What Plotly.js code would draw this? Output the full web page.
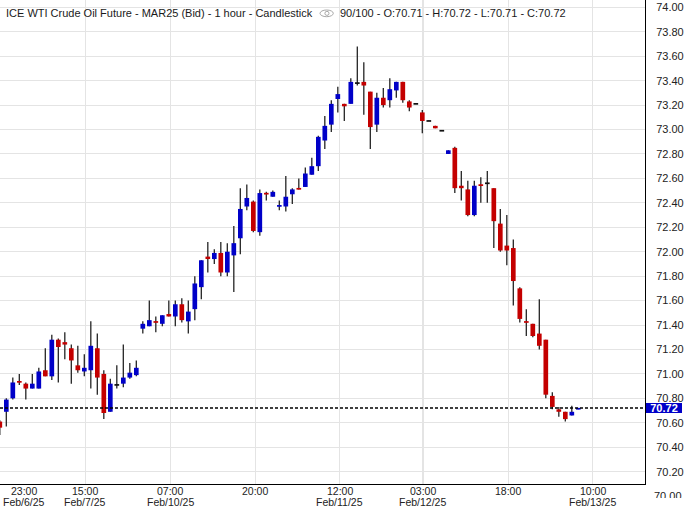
<!DOCTYPE html>
<html><head><meta charset="utf-8">
<script src="https://cdn.plot.ly/plotly-3.0.1.min.js"></script>
<style>html,body{margin:0;padding:0;background:#fff}#chart{width:688px;height:508px}</style>
</head><body><div id="chart"></div>
<script>
// Hourly bars, ICE WTI Crude Oil Future MAR25 (Bid)
const openP  = [70.61,70.69,70.80,70.94,70.92,70.88,70.88,71.03,70.98,71.28,
                71.26,71.21,71.07,71.02,71.03,71.21,71.00,70.69,70.91,70.92,
                70.97,70.99,71.37,71.39,71.43,71.41,71.49,71.47,71.57,71.43,
                71.53,71.71,71.96,71.94,71.99,71.83,71.97,72.11,72.37,72.41,
                72.16,72.48,72.45,72.37,72.37,72.47,72.52,72.53,72.63,72.70,
                72.91,73.04,73.25,73.21,73.21,73.38,73.39,73.31,73.04,73.26,
                73.24,73.32,73.39,73.23,73.21,73.14,73.07,73.03,72.99,72.80,
                72.85,72.54,72.51,72.30,72.55,72.56,72.52,72.23,72.05,72.03,
                71.70,71.43,71.41,71.33,71.28,70.82,70.71,70.69,70.66,70.71];
const highP  = [70.62,70.80,70.97,71.00,70.93,71.00,71.05,71.21,71.32,71.29,
                71.34,71.24,71.23,71.16,71.43,71.33,71.03,70.96,71.07,71.24,
                71.09,71.11,71.43,71.60,71.47,71.48,71.60,71.60,71.62,71.60,
                71.80,71.93,72.08,72.02,72.08,72.07,72.21,72.52,72.55,72.42,
                72.51,72.49,72.50,72.42,72.62,72.52,72.60,72.69,72.77,72.95,
                73.11,73.24,73.35,73.21,73.42,73.68,73.55,73.31,73.30,73.34,
                73.42,73.39,73.39,73.24,73.21,73.16,73.07,73.03,72.99,72.83,
                72.86,72.66,72.58,72.58,72.61,72.66,72.52,72.35,72.30,72.10,
                71.71,71.53,71.41,71.61,71.28,70.85,70.73,70.69,70.74,70.72];
const lowP   = [70.50,70.57,70.79,70.91,70.79,70.88,70.88,70.98,70.95,70.93,
                71.12,70.92,71.01,70.98,70.88,70.83,70.63,70.69,70.88,70.89,
                70.96,70.98,71.33,71.39,71.34,71.39,71.47,71.39,71.42,71.33,
                71.44,71.61,71.83,71.90,71.80,71.80,71.67,71.98,72.34,72.16,
                72.13,72.42,72.45,72.34,72.33,72.39,72.51,72.53,72.63,72.66,
                72.84,72.98,73.14,73.07,73.21,73.36,73.12,72.84,72.98,73.18,
                73.18,73.26,73.22,73.15,73.21,72.97,73.07,73.01,72.99,72.80,
                72.48,72.42,72.29,72.29,72.40,72.40,72.03,72.00,71.89,71.56,
                71.42,71.31,71.30,71.20,70.80,70.71,70.65,70.61,70.66,70.71];
const closeP = [70.56,70.79,70.93,70.93,70.88,70.92,71.02,70.98,71.28,71.22,
                71.24,71.11,71.03,71.05,71.23,70.97,70.68,70.92,70.91,70.97,
                71.01,71.05,71.41,71.44,71.42,71.48,71.47,71.57,71.44,71.51,
                71.74,71.93,71.94,71.99,71.83,72.00,72.07,72.35,72.44,72.17,
                72.48,72.47,72.49,72.38,72.45,72.51,72.51,72.64,72.70,72.94,
                73.03,73.21,73.29,73.19,73.39,73.38,73.36,73.02,73.26,73.20,
                73.33,73.39,73.24,73.18,73.21,73.07,73.07,73.01,72.99,72.83,
                72.52,72.52,72.30,72.54,72.54,72.56,72.25,72.01,72.01,71.76,
                71.45,71.42,71.31,71.23,70.83,70.73,70.69,70.63,70.69,70.72];

const tickIdx   = [3.7, 13.15, 26.2, 39.3, 52.3, 65.1, 78.2, 91.2];
const tickTimes = ["23:00","15:00","07:00","20:00","12:00","03:00","18:00","10:00"];
const tickDates = ["Feb/6/25","Feb/7/25","Feb/10/25","","Feb/11/25","Feb/12/25","","Feb/13/25"];
const gridIdx   = [13.15, 26.2, 39.3, 52.3, 65.1, 78.2, 91.2];
const yTickVals = [70.2,70.4,70.6,70.8,71.0,71.2,71.4,71.6,71.8,72.0,72.2,72.4,72.6,72.8,73.0,73.2,73.4,73.6,73.8,74.0];

const UP = '#0000c8', DOWN = '#c40000', FLAT = '#111111', WICK = '#242424';
const FONT = 'Liberation Sans, Arial, sans-serif';
const n = closeP.length;
const idx = closeP.map((_, i) => i);
const MINH = 0.014;

const bodyBase = [], bodyH = [], bodyCol = [];
for (let i = 0; i < n; i++) {
  const lo = Math.min(openP[i], closeP[i]), hi = Math.max(openP[i], closeP[i]);
  let h = hi - lo, b = lo;
  if (h < MINH) { b = (lo + hi) / 2 - MINH / 2; h = MINH; }
  bodyBase.push(b); bodyH.push(h);
  bodyCol.push(closeP[i] > openP[i] ? UP : (closeP[i] < openP[i] ? DOWN : FLAT));
}

const wicks = {
  type: 'bar', x: idx, base: lowP, y: highP.map((h, i) => Math.max(h - lowP[i], 0.004)),
  width: 0.2, marker: {color: WICK, line: {width: 0}}, hoverinfo: 'skip', showlegend: false
};
const bodies = {
  type: 'bar', x: idx, base: bodyBase, y: bodyH,
  width: 0.72, marker: {color: bodyCol, line: {width: 0}}, hoverinfo: 'skip', showlegend: false
};

const lastO = openP[n-1], lastH = highP[n-1], lastL = lowP[n-1], lastC = closeP[n-1];
const PW = 645, PH = 484;

const annotations = [
  {xref:'paper', yref:'paper', x: 6.3/PW, y: 1 - 12.7/PH, xanchor:'left', yanchor:'middle',
   text:'ICE WTI Crude Oil Future - MAR25 (Bid) - 1 hour - Candlestick', showarrow:false,
   borderpad:0, borderwidth:0, font:{family:FONT, size:11, color:'#1a1a1a'}},
  {xref:'paper', yref:'paper', x: 339.8/PW, y: 1 - 12.7/PH, xanchor:'left', yanchor:'middle',
   text: `${n}/100 - O:${lastO.toFixed(2)} - H:${lastH.toFixed(2)} - L:${lastL.toFixed(2)} - C:${lastC.toFixed(2)}`,
   showarrow:false, borderpad:0, borderwidth:0, font:{family:FONT, size:11, color:'#1a1a1a'}},
  {xref:'paper', yref:'y', x:1, y:lastC, xanchor:'left', yanchor:'middle', xshift:1,
   text: lastC.toFixed(2), showarrow:false, width:36, height:10, bgcolor:'#0000c8',
   borderpad:0, borderwidth:0, font:{family:FONT, size:11, color:'#ffffff', weight:700}},
  {xref:'paper', yref:'paper', x:1, y:-(496.1-PH)/PH, xanchor:'left', yanchor:'middle', xshift:9,
   text:'70.00', showarrow:false, borderpad:0, borderwidth:0, font:{family:FONT, size:11, color:'#222'}},
  {xref:'paper', yref:'paper', x:1, y:-(497.5-PH)/PH, xanchor:'left', yanchor:'top', xshift:3,
   text:' ', showarrow:false, width:43, height:12, bgcolor:'#ffffff', borderpad:0, borderwidth:0}
];
tickTimes.forEach((t, k) => {
  annotations.push({xref:'x', yref:'paper', x: tickIdx[k], y:0, yanchor:'top', yshift:-0.5,
    text:t, showarrow:false, borderpad:0, borderwidth:0, font:{family:FONT, size:10.5, color:'#222'}});
});
tickDates.forEach((d, k) => {
  if (!d) return;
  annotations.push({xref:'x', yref:'paper', x: tickIdx[k], y:0, yanchor:'top', yshift:-11.8,
    text:d, showarrow:false, borderpad:0, borderwidth:0, font:{family:FONT, size:10.5, color:'#222'}});
});

const shapes = [
  {type:'line', xref:'paper', x0:0, x1:1, yref:'y', y0:lastC, y1:lastC, layer:'above',
   line:{color:'#000', width:1.5, dash:'3px,2px'}},
  {type:'circle', xref:'paper', yref:'paper', x0:320/PW, x1:333.3/PW, y0:1-16.7/PH, y1:1-10/PH,
   line:{color:'#a8a8a8', width:1}},
  {type:'circle', xref:'paper', yref:'paper', x0:324.9/PW, x1:329/PW, y0:1-15.4/PH, y1:1-11.3/PH,
   line:{color:'#a8a8a8', width:1}}
];

const layout = {
  width:688, height:508, autosize:false,
  margin:{l:0, r:43, t:0, b:24, pad:0},
  paper_bgcolor:'#fff', plot_bgcolor:'#fff',
  barmode:'overlay', showlegend:false,
  font:{family:FONT, size:11, color:'#222'},
  xaxis:{type:'linear', range:[0.03, 99.26], showgrid:false, zeroline:false,
    tickmode:'array', tickvals:tickIdx, ticktext:tickTimes, ticks:'', showticklabels:false,
    showline:true, linecolor:'#000', linewidth:1,
    minor:{tickmode:'array', tickvals:gridIdx, showgrid:true, gridcolor:'#e4e4e4', gridwidth:1.2, ticks:''},
    fixedrange:true},
  yaxis:{side:'right', range:[70.099, 74.06], tickmode:'array', tickvals:yTickVals,
    ticktext:yTickVals.map(v => v.toFixed(2)), showgrid:true, gridcolor:'#e4e4e4', gridwidth:1,
    zeroline:false, showline:true, linecolor:'#000', linewidth:1, ticks:'', ticklabelstandoff:8,
    tickfont:{family:FONT, size:11, color:'#222'}, fixedrange:true},
  annotations, shapes
};

Plotly.newPlot('chart', [wicks, bodies], layout, {staticPlot:true, displayModeBar:false});
</script></body></html>
